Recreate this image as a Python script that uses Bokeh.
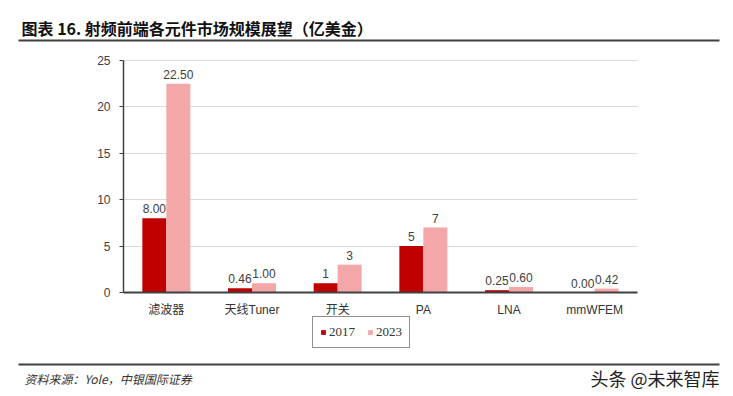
from bokeh.plotting import figure
from bokeh.models import (ColumnDataSource, Range1d, LinearAxis, Grid, Label,
                          BoxAnnotation, Legend, LegendItem, FixedTicker)
from bokeh.core.properties import value
from bokeh.transform import dodge
from bokeh.embed import file_html
from bokeh.resources import INLINE

categories = ["滤波器", "天线Tuner", "开关", "PA", "LNA", "mmWFEM"]
v2017 = [8.00, 0.46, 1, 5, 0.25, 0.00]
v2023 = [22.50, 1.00, 3, 7, 0.60, 0.42]
lab2017 = ["8.00", "0.46", "1", "5", "0.25", "0.00"]
lab2023 = ["22.50", "1.00", "3", "7", "0.60", "0.42"]
series_names = ["2017", "2023"]
yticks = [0, 5, 10, 15, 20, 25]

title_text = "图表 16. 射频前端各元件市场规模展望（亿美金）"
source_text = "资料来源：Yole，中银国际证券"
watermark = "头条 @未来智库"

C17 = "#C00000"
C23 = "#F4A7A9"
TXT = "#404040"
FONT = "Liberation Sans, 'Noto Sans CJK SC', sans-serif"
CJK = "'Noto Sans CJK SC', sans-serif"

# canvas / plot-area geometry (pixels)
W, H = 733, 396
PL, PR, PT, PB = 123, 637, 60, 292

n = len(categories)
cw = (PR - PL) / n
ymax = yticks[-1]
ppu = (PB - PT) / ymax
x_range = Range1d(0.5 - PL / cw, n + 0.5 + (W - PR) / cw)
y_range = Range1d(-(H - PB) / ppu, ymax + PT / ppu)

p = figure(width=W, height=H, x_range=x_range, y_range=y_range,
           output_backend="svg", toolbar_location=None, min_border=0,
           x_axis_type=None, y_axis_type=None)
p.outline_line_color = None

pos = list(range(1, n + 1))
src = ColumnDataSource(dict(x=pos, v17=v2017, v23=v2023, l17=lab2017, l23=lab2023))

# horizontal gridlines limited to the plot area
if "cross_bounds" in Grid.properties():
    ygrid = Grid(dimension=1, ticker=FixedTicker(ticks=yticks[1:]),
                 grid_line_color="#D9D9D9", cross_bounds=(0.5, n + 0.5))
    p.add_layout(ygrid)
else:
    gaxis = LinearAxis(fixed_location=0.5, ticker=FixedTicker(ticks=yticks[1:]),
                       axis_line_color=None, major_tick_line_color="#D9D9D9",
                       major_tick_in=int(PR - PL), major_tick_out=0,
                       minor_tick_line_color=None, major_label_text_alpha=0,
                       level="underlay")
    p.add_layout(gaxis, "left")

r17 = p.vbar(x=dodge("x", -0.14), top="v17", width=0.28, source=src,
             fill_color=C17, line_color=None)
r23 = p.vbar(x=dodge("x", 0.14), top="v23", width=0.28, source=src,
             fill_color=C23, line_color=None)

p.text(x=dodge("x", -0.14), y="v17", text="l17", source=src,
       text_align="center", text_baseline="bottom", y_offset=-5,
       text_font_size="12px", text_color=TXT, text_font=value(FONT))
p.text(x=dodge("x", 0.14), y="v23", text="l23", source=src,
       text_align="center", text_baseline="bottom", y_offset=-5,
       text_font_size="12px", text_color=TXT, text_font=value(FONT))

# axes at fixed locations
yaxis = LinearAxis(fixed_location=0.5, bounds=(0, ymax),
                   ticker=FixedTicker(ticks=yticks),
                   axis_line_color="#404040", axis_line_width=1.5,
                   major_tick_line_color="#404040", major_tick_out=4,
                   major_tick_in=0, minor_tick_line_color=None,
                   major_label_text_font=FONT, major_label_text_font_size="12px",
                   major_label_text_color=TXT, major_label_standoff=9)
p.add_layout(yaxis, "left")

xaxis = LinearAxis(fixed_location=0, bounds=(0.5, n + 0.5),
                   ticker=FixedTicker(ticks=pos),
                   major_label_overrides={i: c for i, c in zip(pos, categories)},
                   axis_line_color="#404040", axis_line_width=2,
                   major_tick_line_color=None, minor_tick_line_color=None,
                   major_label_text_font=FONT, major_label_text_font_size="12px",
                   major_label_text_color="#333333", major_label_standoff=4)
p.add_layout(xaxis, "below")

# legend
legend = Legend(items=[LegendItem(label=series_names[0], renderers=[r17]),
                       LegendItem(label=series_names[1], renderers=[r23])],
                location=(312, H - 348), orientation="horizontal",
                label_text_font="Liberation Serif", label_text_font_size="13px",
                label_text_color="#333333",
                glyph_width=6, glyph_height=6, spacing=12, padding=7, margin=0,
                label_standoff=3, label_height=11,
                border_line_color="#222222", border_line_width=1.5,
                background_fill_color="white")
p.add_layout(legend, "center")


def label(text, px, py, size, **kw):
    p.add_layout(Label(x=px, y=H - py, x_units="screen", y_units="screen",
                       text=text, text_font_size=size, text_baseline="middle",
                       **kw))


label(title_text, 21, 27, "16px", text_font=CJK, text_font_style="bold",
      text_color="#111111")
label(source_text, 24, 378, "12px", text_font=CJK, text_font_style="italic",
      text_color="#333333")
label(watermark, 719, 377, "18px", text_font=CJK, text_align="right",
      text_color="#222222")

for ly in (40, 364):
    p.add_layout(BoxAnnotation(left=18, right=719, top=H - ly + 1,
                               bottom=H - ly - 1, left_units="screen",
                               right_units="screen", top_units="screen",
                               bottom_units="screen", fill_color="#404040",
                               fill_alpha=1, line_color=None, editable=False))

open("out.html", "w").write(file_html(p, INLINE))
